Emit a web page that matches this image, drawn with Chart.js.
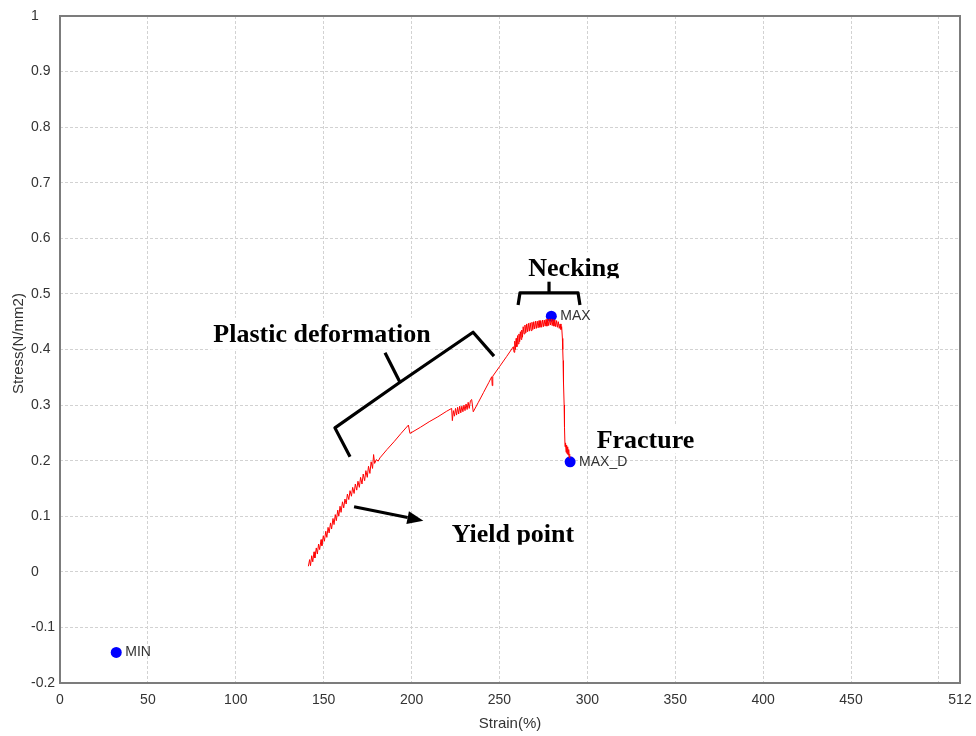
<!DOCTYPE html>
<html>
<head>
<meta charset="utf-8">
<script src="https://cdn.jsdelivr.net/npm/chart.js@4.4.1/dist/chart.umd.min.js"></script>
<style>
  body { margin: 0; background: #fff; }
  #box { width: 976px; height: 736px; }
</style>
</head>
<body>
<div id="box"><canvas id="stressChart" width="976" height="736"></canvas></div>
<script>
// stress-strain curve
const strain = [
  141.3, 142.0, 142.5, 143.2, 143.8, 144.5, 145.0, 145.8, 146.4, 147.1, 147.7, 148.5, 149.0, 149.8, 150.4, 151.2,
  151.8, 152.5, 153.1, 153.9, 154.5, 155.3, 155.9, 156.6, 157.2, 158.0, 158.6, 159.3, 159.9, 160.7, 161.4, 162.1,
  162.8, 163.5, 164.3, 165.0, 165.8, 166.5, 167.3, 168.0, 168.8, 169.5, 170.3, 171.0, 171.8, 172.5, 173.3, 174.0,
  174.8, 175.5, 176.3, 177.0, 177.8, 178.4, 179.0, 180.0, 181.0, 182.0,
  186.0, 190.0, 194.0, 198.2, 199.1, 205.0, 210.0, 215.0, 220.0, 222.8,
  223.2, 223.8, 224.4, 225.0, 225.6, 226.2, 226.8, 227.4, 228.0, 228.6, 229.2, 229.8, 230.4, 231.0, 231.6, 232.2,
  232.8, 233.5, 234.2, 235.1,
  238.0, 241.0, 244.0, 245.6, 245.9, 246.2, 250.0, 254.0, 257.9,
  258.3, 258.7, 259.1, 259.5, 259.9, 260.3, 260.7, 261.1, 261.5, 261.9, 262.3, 262.7, 263.1, 263.5,
  264.0, 264.5, 265.0, 265.5, 266.0, 266.5, 267.0, 267.5, 268.0, 268.5, 269.0, 269.5, 270.0, 270.5, 271.0, 271.5,
  272.0, 272.5, 273.0, 273.5, 274.0, 274.5, 275.0, 275.5, 276.0, 276.5, 277.0, 277.5, 278.0, 278.5, 279.0, 279.5,
  280.0, 280.5, 281.0, 281.5, 282.0, 282.5, 283.0, 283.5, 284.0, 284.5, 285.0, 285.4,
  285.8, 286.0, 286.2, 286.3, 286.4, 286.6, 286.8, 287.0, 287.3, 287.6, 287.9, 288.2, 288.5, 288.8, 289.1, 289.4,
  289.7, 290.0
];
const stress = [
  0.010, 0.022, 0.011, 0.029, 0.018, 0.036, 0.025, 0.043, 0.032, 0.050, 0.040, 0.058, 0.047, 0.065, 0.055, 0.073,
  0.062, 0.080, 0.070, 0.088, 0.077, 0.096, 0.085, 0.103, 0.092, 0.111, 0.100, 0.118, 0.107, 0.126, 0.115, 0.131,
  0.122, 0.140, 0.130, 0.146, 0.136, 0.152, 0.141, 0.158, 0.147, 0.163, 0.152, 0.170, 0.158, 0.176, 0.164, 0.182,
  0.170, 0.190, 0.177, 0.198, 0.186, 0.211, 0.195, 0.202, 0.199, 0.205,
  0.220, 0.234, 0.249, 0.264, 0.249, 0.260, 0.270, 0.279, 0.289, 0.294,
  0.272, 0.290, 0.280, 0.294, 0.282, 0.296, 0.284, 0.298, 0.286, 0.298, 0.288, 0.300, 0.290, 0.302, 0.292, 0.305,
  0.294, 0.308, 0.310, 0.288,
  0.305, 0.323, 0.341, 0.351, 0.335, 0.352, 0.369, 0.387, 0.405,
  0.395, 0.415, 0.400, 0.420, 0.405, 0.425, 0.410, 0.428, 0.414, 0.432, 0.418, 0.435, 0.422, 0.441,
  0.428, 0.444, 0.430, 0.446, 0.432, 0.447, 0.433, 0.448, 0.434, 0.449, 0.436, 0.450, 0.437, 0.451, 0.438, 0.451,
  0.439, 0.452, 0.440, 0.452, 0.440, 0.453, 0.441, 0.453, 0.442, 0.454, 0.442, 0.455, 0.443, 0.455, 0.444, 0.455,
  0.443, 0.454, 0.442, 0.453, 0.441, 0.452, 0.440, 0.450, 0.438, 0.446, 0.436, 0.441,
  0.420, 0.400, 0.380, 0.369, 0.360, 0.340, 0.300, 0.260, 0.225, 0.232, 0.215, 0.228, 0.212, 0.225, 0.210, 0.220,
  0.205, 0.212
];

const markerNames = ["MIN", "MAX", "MAX_D"];
const markerStrain = [32, 279.5, 290.2];
const markerStress = [-0.145, 0.46, 0.198];

const xTicks = [0, 50, 100, 150, 200, 250, 300, 350, 400, 450, 500, 512];
const yTicks = [-0.2, -0.1, 0, 0.1, 0.2, 0.3, 0.4, 0.5, 0.6, 0.7, 0.8, 0.9, 1];

// hand-drawn notes, in data units (text: left edge + baseline)
const noteTexts = ["Plastic deformation", "Necking", "Fracture", "Yield point"];
const noteX = [87.2, 266.4, 305.3, 222.8];
const noteY = [0.414, 0.532, 0.222, 0.054];
const noteCut = [8, 2, 5, 3];

const plasticBrace = [
  [[165.0, 0.207], [156.4, 0.259], [193.4, 0.341], [184.9, 0.394]],
  [[193.4, 0.341], [235.0, 0.431], [246.9, 0.388]]
];
const neckingBrace = [
  [[260.6, 0.480], [261.7, 0.502], [294.7, 0.502], [295.8, 0.480]],
  [[278.2, 0.502], [278.2, 0.522]]
];
const yieldArrow = [[167.3, 0.117], [206.7, 0.092]];

const px = (chart, p) => [chart.scales.x.getPixelForValue(p[0]), chart.scales.y.getPixelForValue(p[1])];

const extras = {
  id: "extras",
  beforeDatasetsDraw(chart) {
    const { ctx, chartArea: a } = chart;
    ctx.save();
    ctx.strokeStyle = "#7c7c7c";
    ctx.lineWidth = 2;
    ctx.strokeRect(a.left, a.top, a.right - a.left, a.bottom - a.top);
    ctx.restore();
  },
  afterDatasetsDraw(chart) {
    const { ctx, chartArea: a } = chart;
    ctx.save();
    ctx.font = "14px 'Liberation Sans', Arial, sans-serif";
    ctx.fillStyle = "#333";
    ctx.textBaseline = "middle";
    ctx.textAlign = "left";
    markerNames.forEach((name, i) => {
      const [x, y] = px(chart, [markerStrain[i], markerStress[i]]);
      ctx.fillText(name, x + 9, y);
    });

    // axis titles
    ctx.font = "15px 'Liberation Sans', Arial, sans-serif";
    ctx.textAlign = "center";
    ctx.fillText("Strain(%)", (a.left + a.right) / 2, a.bottom + 41);
    ctx.translate(19, (a.top + a.bottom) / 2 - 6);
    ctx.rotate(-Math.PI / 2);
    ctx.fillText("Stress(N/mm2)", 0, 0);
    ctx.restore();

    // braces and arrow
    ctx.save();
    ctx.strokeStyle = "#000";
    ctx.lineWidth = 3.2;
    ctx.lineJoin = "round";
    [...plasticBrace, ...neckingBrace].forEach((line) => {
      ctx.beginPath();
      line.forEach((p, i) => {
        const [x, y] = px(chart, p);
        i ? ctx.lineTo(x, y) : ctx.moveTo(x, y);
      });
      ctx.stroke();
    });
    const [x0, y0] = px(chart, yieldArrow[0]);
    const [x1, y1] = px(chart, yieldArrow[1]);
    const ang = Math.atan2(y1 - y0, x1 - x0);
    const head = 16;
    ctx.beginPath();
    ctx.moveTo(x0, y0);
    ctx.lineTo(x1 - head * Math.cos(ang), y1 - head * Math.sin(ang));
    ctx.stroke();
    ctx.fillStyle = "#000";
    ctx.beginPath();
    ctx.moveTo(x1, y1);
    ctx.lineTo(x1 - head * Math.cos(ang) + 6.5 * Math.sin(ang), y1 - head * Math.sin(ang) - 6.5 * Math.cos(ang));
    ctx.lineTo(x1 - head * Math.cos(ang) - 6.5 * Math.sin(ang), y1 - head * Math.sin(ang) + 6.5 * Math.cos(ang));
    ctx.closePath();
    ctx.fill();
    ctx.restore();

    // note texts on white boxes, clipped at the box bottom
    ctx.save();
    ctx.font = "bold 26px 'Liberation Serif', 'Times New Roman', serif";
    ctx.textBaseline = "alphabetic";
    ctx.textAlign = "left";
    noteTexts.forEach((t, i) => {
      const [x, y] = px(chart, [noteX[i], noteY[i]]);
      const w = ctx.measureText(t).width;
      ctx.save();
      ctx.beginPath();
      ctx.rect(x - 3, y - 24, w + 6, 24 + noteCut[i]);
      ctx.fillStyle = "#fff";
      ctx.fill();
      ctx.clip();
      ctx.fillStyle = "#000";
      ctx.fillText(t, x, y);
      ctx.restore();
    });
    ctx.restore();
  }
};

const makeChart = () => {
  const curve = strain.map((s, i) => ({ x: s, y: stress[i] }));
  const markers = markerStrain.map((s, i) => ({ x: s, y: markerStress[i] }));

  new Chart("stressChart", {
    type: "line",
    data: {
      datasets: [
        {
          data: curve,
          borderColor: "#ff0000",
          borderWidth: 1,
          pointRadius: 0,
          tension: 0,
          fill: false
        },
        {
          type: "scatter",
          data: markers,
          backgroundColor: "#0000ff",
          borderWidth: 0,
          pointRadius: 5.5
        }
      ]
    },
    options: {
      responsive: false,
      animation: false,
      layout: { padding: { left: 31, right: 16, top: 16, bottom: 0 } },
      plugins: { legend: { display: false }, tooltip: { enabled: false } },
      scales: {
        x: {
          type: "linear",
          min: 0,
          max: 512,
          afterBuildTicks: (s) => { s.ticks = xTicks.map((v) => ({ value: v })); },
          afterFit: (s) => { s.height = 53; s.paddingLeft = 0; s.paddingRight = 0; },
          grid: { color: "#d2d2d2", lineWidth: 1, drawTicks: false },
          border: { display: false, dash: [3, 2] },
          ticks: {
            padding: 9,
            maxRotation: 0,
            autoSkip: false,
            color: "#333",
            font: { family: "'Liberation Sans', Arial, sans-serif", size: 14 },
            callback: (v) => (v === 500 ? "" : String(v))
          }
        },
        y: {
          min: -0.2,
          max: 1,
          afterBuildTicks: (s) => { s.ticks = yTicks.map((v) => ({ value: v })); },
          afterFit: (s) => { s.width = 29; s.paddingTop = 0; s.paddingBottom = 0; },
          grid: { color: "#d2d2d2", lineWidth: 1, drawTicks: false },
          border: { display: false, dash: [3, 2] },
          ticks: {
            crossAlign: "far",
            autoSkip: false,
            color: "#333",
            font: { family: "'Liberation Sans', Arial, sans-serif", size: 14 },
            callback: (v) => String(Math.round(v * 10) / 10)
          }
        }
      }
    },
    plugins: [extras]
  });
};

window.addEventListener("DOMContentLoaded", () => {
  makeChart();
});
</script>
</body>
</html>
